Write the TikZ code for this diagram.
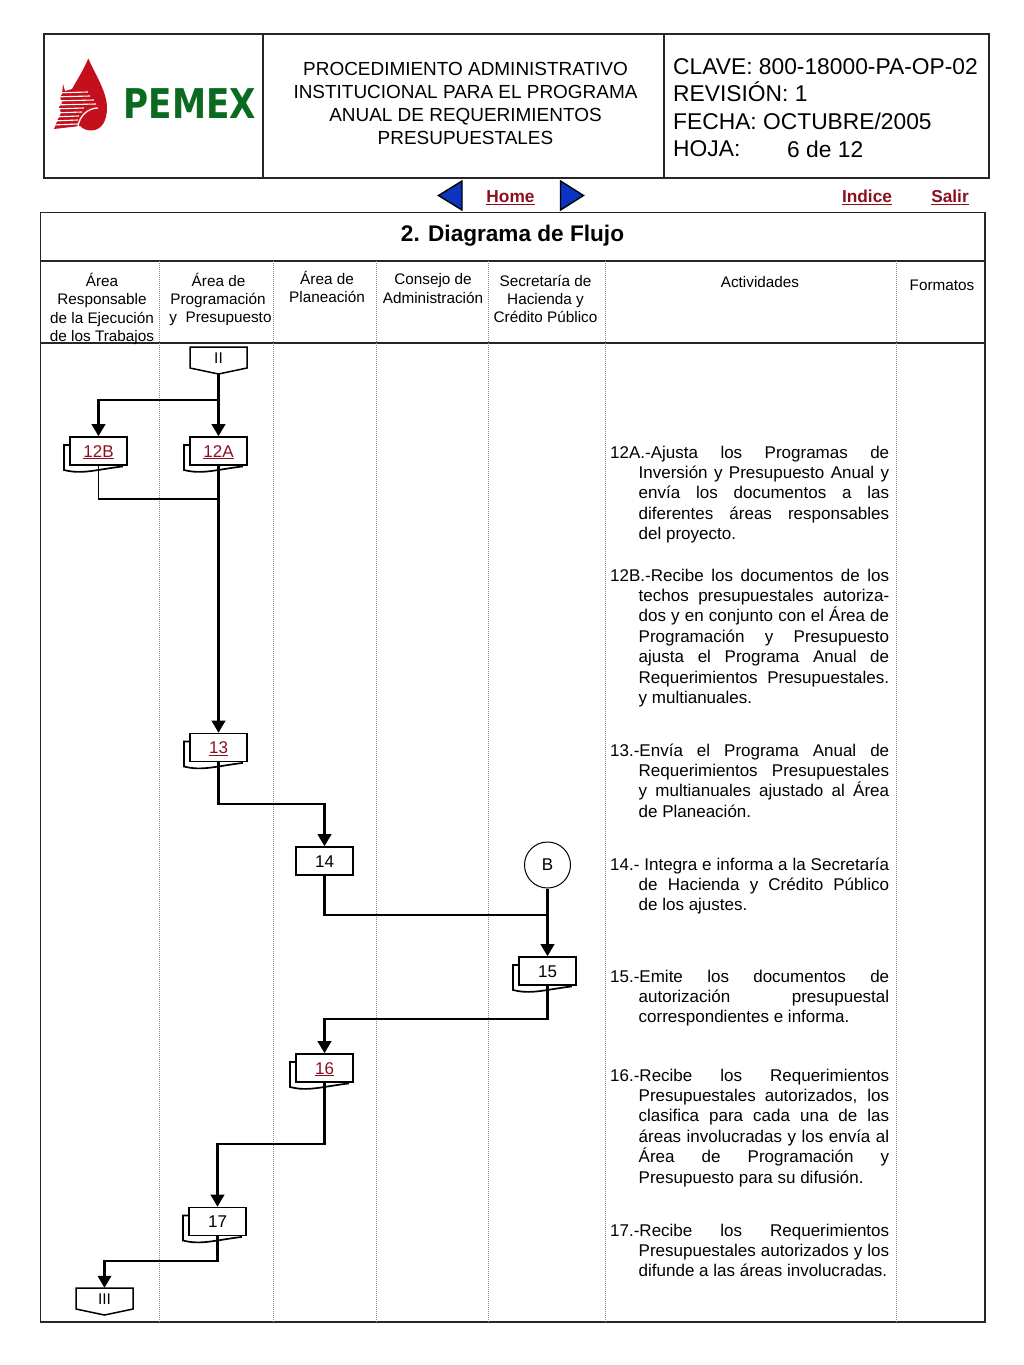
\documentclass[tikz,border=0pt]{standalone}
\usepackage{fontspec}
\setmainfont{Liberation Sans}
\newfontfamily\logofont{DejaVu Sans}
\usepackage{xcolor}
\usetikzlibrary{arrows.meta}

\definecolor{pemexred}{HTML}{C4101C}
\definecolor{pemexgreen}{HTML}{0A6A20}
\definecolor{linkred}{HTML}{8A1020}
\definecolor{navblue}{HTML}{0A35C0}

\tikzset{
    frameline/.style={line width=1.6pt, color=black!85},
    coldiv/.style={line width=1pt, densely dotted, color=black!45},
    flow/.style={line width=2.3pt, line join=miter},
    thinflow/.style={line width=1.5pt},
    docbox/.style={draw, line width=1.6pt, fill=white, minimum width=57pt, minimum height=28pt, inner sep=0pt, text height=12.2pt, text depth=0pt, font=\fontsize{17}{20}\selectfont},
    docback/.style={draw, line width=1.7pt},
    colhead/.style={align=center, inner sep=0pt, font=\fontsize{15.3}{18.4}\selectfont},
    activity/.style={anchor=north west, inner sep=0pt, text width=279pt, align=justify, font=\fontsize{17}{20.45}\selectfont},
    navlink/.style={inner sep=0pt, text=linkred, font=\fontsize{17.3}{20}\selectfont\bfseries},
    hoja/.style={anchor=base west, inner sep=0pt, font=\fontsize{22.8}{27}\selectfont}
}

% caja de documento con hoja de fondo: nombre, x, y, texto
\newcommand{\docnode}[4]{%
    \draw[docback] (#2,#3+8) -- (#2-6,#3+8) -- (#2-6,#3+33) .. controls (#2+12,#3+37.5) and (#2+24,#3+33) .. (#2+52,#3+29.5) -- (#2+52,#3+28);
    \node[docbox] (#1) at (#2+28.5,#3+14) {#4};
}
% conector fuera de pagina: nombre, x, y, texto
\newcommand{\offpage}[4]{%
    \draw[line width=1.5pt] (#2,#3) -- (#2+57,#3) -- (#2+57,#3+21) -- (#2+28.5,#3+27) -- (#2,#3+21) -- cycle;
    \node[minimum width=57pt, minimum height=27pt, inner sep=0pt] (#1) at (#2+28.5,#3+13.5) {};
    \node[inner sep=0pt, font=\fontsize{15.5}{18}\selectfont] at (#2+28.5,#3+11) {#4};
}
\newcommand{\lnk}[1]{\underline{#1}}

\begin{document}
\begin{tikzpicture}[x=1pt, y=-1pt, >={Triangle[length=12pt, width=13.5pt]}]
    \useasboundingbox (0,0) rectangle (1024,1365);

    % 1. Encabezado
    \draw[frameline] (44,34) rectangle (989,178);
    \draw[frameline] (263,34) -- (263,178);
    \draw[frameline] (664,34) -- (664,178);

    % 2. Logotipo
    \fill[pemexred] (88.3,58.5) .. controls (83,71) and (77,80) .. (72,89) -- (65,91) -- (63,84) -- (62,94)
        -- (60,97) -- (62,103) -- (59,107) -- (61,113) -- (58,119) -- (54,129) -- (80,126)
        .. controls (83,129) and (87,130.5) .. (91,130.5) .. controls (102,130.5) and (107,120) .. (107,108)
        .. controls (107,92) and (96,76) .. (88.3,58.5) -- cycle;
    \foreach \yy/\xx in {93/88, 97/90, 101/94, 105/96, 109/84, 113/82, 117/79, 121/78, 125/78}
        \draw[white, line width=1.1pt] (52,\yy) -- (\xx,\yy-1);
    \draw[white, line width=1.3pt] (78,127) .. controls (79,116) and (88,108) .. (98,108);
    \node[inner sep=0pt, text=pemexgreen, xscale=0.835, font=\fontsize{41}{41}\selectfont\logofont\bfseries] (logotext) at (190,104) {PEMEX};

    % 3. Textos del encabezado
    \node[align=center, inner sep=0pt, font=\fontsize{18.95}{22.9}\selectfont] (title) at (465.5,103.5)
        {PROCEDIMIENTO ADMINISTRATIVO\\INSTITUCIONAL PARA EL PROGRAMA\\ANUAL DE REQUERIMIENTOS\\PRESUPUESTALES};
    \node[hoja] (clave) at (673,74.5) {CLAVE: 800-18000-PA-OP-02};
    \node[hoja] (rev) at (673,101.5) {REVISIÓN: 1};
    \node[hoja] (fecha) at (673,129.5) {FECHA: OCTUBRE/2005};
    \node[hoja] (hojalbl) at (673,156.5) {HOJA:};
    \node[hoja] (hojanum) at (787,157.5) {6 de 12};

    % 4. Navegacion
    \draw[fill=navblue, line width=1.4pt] (462,181) -- (462,210) -- (438.5,195.5) -- cycle;
    \draw[fill=navblue, line width=1.4pt] (560.5,181) -- (560.5,210) -- (583.5,195.5) -- cycle;
    \node[navlink] (home) at (510.5,197.5) {\lnk{Home}};
    \node[navlink] (indice) at (867,197) {\lnk{Indice}};
    \node[navlink] (salir) at (950,197) {\lnk{Salir}};

    % 5. Marco y columnas
    \draw[frameline] (40.5,212.5) rectangle (985,1322);
    \draw[frameline] (40.5,261) -- (985,261);
    \draw[frameline] (40.5,343) -- (985,343);
    \foreach \xx in {159,273,376,488,605,896}
        \draw[coldiv] (\xx,261) -- (\xx,1322);
    \node[inner sep=0pt, font=\fontsize{22.6}{28}\selectfont\bfseries] (diagtitle) at (512.5,235.5) {2. Diagrama de Flujo};

    % 6. Titulos de columnas
    \node[colhead] (col1) at (102,309) {Área\\Responsable\\de la Ejecución\\de los Trabajos};
    \node[colhead] (col2) at (220.5,299.5) {\mbox{Área de\hspace{4pt}}\\\mbox{Programación\hspace{5pt}}\\y\ \ Presupuesto};
    \node[colhead] (col3) at (327,287) {Área de\\Planeación};
    \node[colhead] (col4) at (433,288.5) {Consejo de\\Administración};
    \node[colhead] (col5) at (545.5,299) {Secretaría de\\Hacienda y\\Crédito Público};
    \node[colhead] (col6) at (760,282) {Actividades};
    \node[colhead] (col7) at (942,285) {Formatos};

    % 7. Nodos del flujo
    \offpage{nII}{190}{347}{II}
    \docnode{nB12}{70}{437}{\textcolor{linkred}{\lnk{12B}}}
    \docnode{nA12}{190}{437}{\textcolor{linkred}{\lnk{12A}}}
    \docnode{nXIII}{190}{733.5}{\textcolor{linkred}{\lnk{13}}}
    \node[docbox] (nXIV) at (324.5,861) {14};
    \node[circle, draw, line width=1pt, minimum size=46pt, inner sep=0pt, font=\fontsize{17}{20}\selectfont] (nB) at (547.5,865) {B};
    \docnode{nXV}{519}{957}{15}
    \docnode{nXVI}{296}{1054}{\textcolor{linkred}{\lnk{16}}}
    \docnode{nXVII}{189}{1207.5}{17}
    \offpage{nIII}{76}{1288}{III}

    % 8. Conectores
    \coordinate (j12) at (218.5,400);
    \coordinate (j12b) at (218.5,499);
    \coordinate (j13) at (218.5,804);
    \coordinate (j14) at (547.5,915);
    \coordinate (j15) at (547.5,1019);
    \coordinate (j16) at (324.5,1144);
    \coordinate (j17) at (217.5,1261);
    \draw[flow, ->] (nII.south) -- (nA12.north);
    \draw[flow, ->] (j12) -| (nB12.north);
    \draw[thinflow] (nB12.south) |- (j12b);
    \draw[flow, ->] (nA12.south) -- (nXIII.north);
    \draw[flow, ->] (nXIII.south) -- (j13) -| (nXIV.north);
    \draw[flow] (nXIV.south) |- (j14);
    \draw[flow, ->] (nB.south) -- (nXV.north);
    \draw[flow, ->] (nXV.south) -- (j15) -| (nXVI.north);
    \draw[flow, ->] (nXVI.south) -- (j16) -| (nXVII.north);
    \draw[flow, ->] (nXVII.south) -- (j17) -| (nIII.north);

    % 9. Actividades
    \node[activity] (act12a) at (610,443.5) {\hangindent=28.5pt\hangafter=1\strut
        12A.-Ajusta los Programas de\linebreak
        Inversión y Presupuesto Anual y\linebreak
        envía los documentos a las\linebreak
        diferentes áreas responsables\linebreak
        del proyecto.\par};
    \node[activity] (act12b) at (610,566.5) {\hangindent=28.5pt\hangafter=1\strut
        12B.-Recibe los documentos de los\linebreak
        techos presupuestales autoriza-\linebreak
        dos y en conjunto con el Área de\linebreak
        Programación y Presupuesto\linebreak
        ajusta el Programa Anual de\linebreak
        Requerimientos Presupuestales.\linebreak
        y multianuales.\par};
    \node[activity] (act13) at (610,741.5) {\hangindent=28.5pt\hangafter=1\strut
        13.-Envía el Programa Anual de\linebreak
        Requerimientos Presupuestales\linebreak
        y multianuales ajustado al Área\linebreak
        de Planeación.\par};
    \node[activity] (act14) at (610,855.5) {\hangindent=28.5pt\hangafter=1\strut
        14.- Integra e informa a la Secretaría\linebreak
        de Hacienda y Crédito Público\linebreak
        de los ajustes.\par};
    \node[activity] (act15) at (610,967.5) {\hangindent=28.5pt\hangafter=1\strut
        15.-Emite los documentos de\linebreak
        autorización presupuestal\linebreak
        correspondientes e informa.\par};
    \node[activity] (act16) at (610,1066.5) {\hangindent=28.5pt\hangafter=1\strut
        16.-Recibe los Requerimientos\linebreak
        Presupuestales autorizados, los\linebreak
        clasifica para cada una de las\linebreak
        áreas involucradas y los envía al\linebreak
        Área de Programación y\linebreak
        Presupuesto para su difusión.\par};
    \node[activity] (act17) at (610,1221.5) {\hangindent=28.5pt\hangafter=1\strut
        17.-Recibe los Requerimientos\linebreak
        Presupuestales autorizados y los\linebreak
        difunde a las áreas involucradas.\par};
\end{tikzpicture}
\end{document}
